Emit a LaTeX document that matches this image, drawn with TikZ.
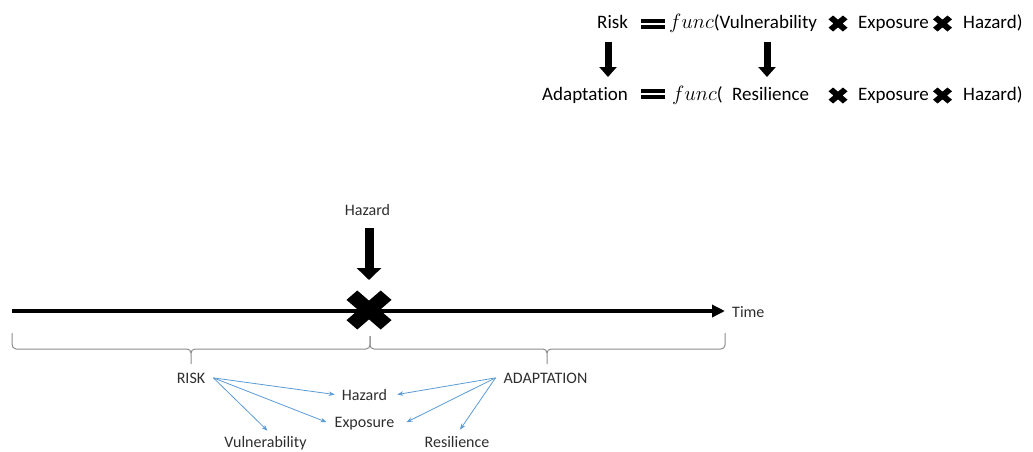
\documentclass[tikz,border=0pt]{standalone}
\usepackage{fontspec}
\setmainfont{Carlito}[Ligatures={NoCommon}]
\usetikzlibrary{arrows.meta}
\definecolor{conblue}{RGB}{91,155,213}
\definecolor{bracegray}{RGB}{140,140,140}
\newcommand{\funcsym}{\scalebox{1.2}{$func$}}
\tikzset{
  toptxt/.style={anchor=base west, inner sep=0pt, text=black, font=\fontsize{19}{22}\selectfont},
  lbl/.style={anchor=base, inner sep=0pt, text=black!82, font=\fontsize{16}{19}\selectfont},
  conn/.style={draw=conblue, line width=0.8pt, -{Stealth[length=6pt,width=4.5pt]}},
  bigdown/.style={draw=black, line width=9pt, -{Triangle[length=12pt,width=24pt]}},
  smalldown/.style={draw=black, line width=7pt, -{Triangle[length=10pt,width=17pt]}},
  timeline/.style={draw=black, line width=4pt, -{Triangle[length=13pt,width=12pt]}},
  bracestyle/.style={draw=bracegray, line width=1pt},
  pics/xmark/.style={code={
    \fill (-0.52,-1) -- (0,-0.48) -- (0.52,-1) -- (1,-0.52) -- (0.48,0) -- (1,0.52)
      -- (0.52,1) -- (0,0.48) -- (-0.52,1) -- (-1,0.52) -- (-0.48,0) -- (-1,-0.52) -- cycle;}},
  eqbars/.style={fill=black}
}
\begin{document}
\begin{tikzpicture}[x=1pt,y=-1pt]
\useasboundingbox (0,0) rectangle (1033,451);

% ---------- top equations ----------
\node[toptxt] (risk) at (597,28.5) {Risk};
\fill[eqbars] (641,18.5) rectangle (665,22.5);
\fill[eqbars] (641,25) rectangle (665,29);
\node[toptxt] (f1) at (669,28.5) {\funcsym(Vulnerability};
\pic[xscale=9.5,yscale=8] at (838,23.5) {xmark};
\node[toptxt] (e1) at (858,28.5) {Exposure};
\pic[xscale=9.5,yscale=8] at (942.5,23.5) {xmark};
\node[toptxt] (h1) at (963,28.5) {Hazard)};

\node[toptxt] (adapt) at (542,100) {Adaptat\kern0pt ion};
\fill[eqbars] (641,88.5) rectangle (665,92.5);
\fill[eqbars] (641,95) rectangle (665,99);
\node[toptxt] (f2) at (672,100) {\funcsym(};
\node[toptxt] (resil) at (732,100) {Resilience};
\pic[xscale=9.5,yscale=8] at (838,95.5) {xmark};
\node[toptxt] (e2) at (858,100) {Exposure};
\pic[xscale=9.5,yscale=8] at (942.5,95.5) {xmark};
\node[toptxt] (h2) at (963,100) {Hazard)};

\coordinate (a1s) at (608,42);
\coordinate (a1e) at (608,77);
\coordinate (a2s) at (767,42);
\coordinate (a2e) at (767,77);
\draw[smalldown] (a1s) -- (a1e);
\draw[smalldown] (a2s) -- (a2e);

% ---------- timeline ----------
\node[lbl] (hazlbl) at (367.5,215) {Hazard};
\coordinate (bigx) at (369,310);
\coordinate (hs) at (369,228);
\coordinate (he) at (369,280);
\draw[bigdown] (hs) -- (he);

\coordinate (t0) at (12,311);
\coordinate (t1) at (725,311);
\draw[timeline] (t0) -- (t1);
\pic[xscale=22.5,yscale=19.5] at (bigx) {xmark};
\node[lbl, anchor=base west] (time) at (732,317) {Time};

% braces
\draw[bracestyle] (12,333) -- (12,344) to[out=-90,in=180] (16,349) -- (187,349)
  to[out=0,in=90] (191,353) -- (191,364);
\draw[bracestyle] (191,353) to[out=90,in=180] (195,349) -- (366,349)
  to[out=0,in=-90] (370,345) -- (370,336);
\draw[bracestyle] (370,336) -- (370,345) to[out=-90,in=180] (374,349) -- (543,349)
  to[out=0,in=90] (547,353) -- (547,364);
\draw[bracestyle] (547,353) to[out=90,in=180] (551,349) -- (721,349)
  to[out=0,in=-90] (725,345) -- (725,333);

% ---------- labels ----------
\node[lbl] (riskl) at (191,383) {RISK};
\node[lbl] (adl) at (545.5,383) {ADAPTATION};
\node[lbl] (hz) at (364.5,400) {Hazard};
\node[lbl] (ex) at (364.5,427) {Exposure};
\node[lbl] (vul) at (265.5,447) {Vulnerability};
\node[lbl] (res) at (457,447) {Resilience};

\draw[conn] ([xshift=8pt]riskl.east) -- ([xshift=-7pt]hz.west);
\draw[conn] ([xshift=8pt]riskl.east) -- ([xshift=-8pt,yshift=1pt]ex.west);
\draw[conn] ([xshift=8pt]riskl.east) -- ([xshift=2pt,yshift=5pt]vul.north);
\draw[conn] ([xshift=-8pt]adl.west) -- ([xshift=10pt]hz.east);
\draw[conn] ([xshift=-8pt]adl.west) -- ([xshift=12pt,yshift=1pt]ex.east);
\draw[conn] ([xshift=-8pt]adl.west) -- ([xshift=3pt,yshift=6pt]res.north);
\end{tikzpicture}
\end{document}
